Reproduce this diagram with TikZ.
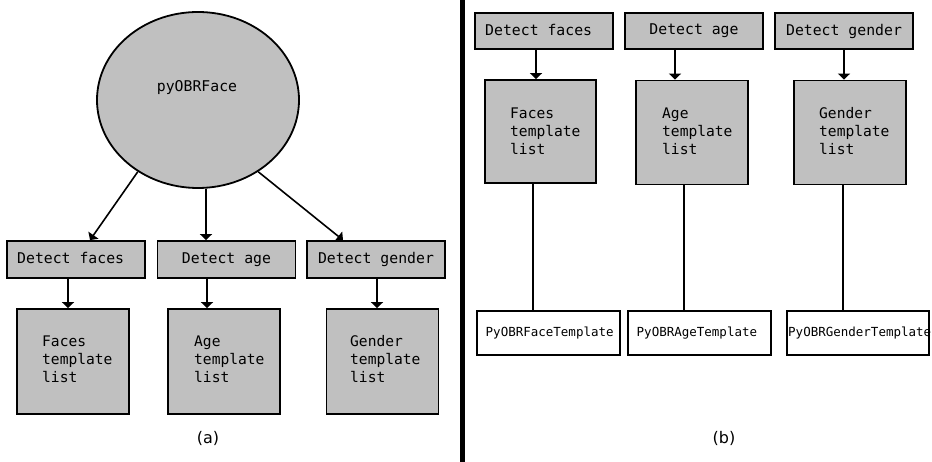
\documentclass[tikz,border=0pt]{standalone}
\usepackage{fontspec}
\setsansfont{DejaVu Sans}
\newfontfamily\monofam{DejaVu Sans Mono}
\usetikzlibrary{shapes.geometric,arrows.meta}
\definecolor{boxgray}{RGB}{192,192,192}
\tikzset{
  x=1pt, y=-1pt,
  graybox/.style={draw=black, line width=1.8pt, fill=boxgray, inner sep=0pt},
  detbox/.style={graybox, minimum width=138pt, minimum height=37pt,
    font=\monofam\fontsize{14.8}{18}\selectfont},
  dettext/.style={anchor=west, inner sep=0pt,
    font=\monofam\fontsize{14.8}{18}\selectfont},
  tplbox/.style={graybox, minimum width=112pt, minimum height=105pt},
  tpltext/.style={anchor=west, align=left, inner sep=0pt,
    font=\monofam\fontsize{14.6}{18}\selectfont},
  classbox/.style={draw=black, line width=1.8pt, fill=white, inner sep=0pt,
    minimum width=143pt, minimum height=44pt},
  classtext/.style={anchor=west, inner sep=0pt,
    font=\monofam\fontsize{12.5}{15}\selectfont},
  arr/.style={line width=1.6pt, -{Triangle[width=12pt,length=6pt]}},
  link/.style={line width=1.6pt},
  caption/.style={font=\sffamily\fontsize{16}{18}\selectfont}
}
\begin{document}
\begin{tikzpicture}
\useasboundingbox (0,0) rectangle (932,462);
\fill[white] (0,0) rectangle (932,462);

% ---------- panel (a) ----------
\node[ellipse, draw=black, line width=1.8pt, fill=boxgray, inner sep=0pt,
      minimum width=202pt, minimum height=176pt] (ell) at (198,100) {};
\node[font=\monofam\fontsize{14.8}{18}\selectfont, inner sep=0pt] (elltext) at (197,88) {pyOBRFace};

\node[detbox] (df) at (76,259.5) {};
\node[dettext] (dftext) at (17,258) {Detect faces};
\node[detbox] (da) at (226.5,259.5) {Detect age};
\node[detbox] (dg) at (376,259.5) {Detect gender};

\node[tplbox] (ft) at (73,361.5) {};
\node[tpltext] (fttext) at (42,359) {Faces\\template\\list};
\node[tplbox] (at) at (224,361.5) {};
\node[tpltext] (attext) at (194,359) {Age\\template\\list};
\node[tplbox] (gt) at (382.5,361.5) {};
\node[tpltext] (gttext) at (350,359) {Gender\\template\\list};

\draw[arr] (ell.230.6) -- ([xshift=14pt]df.north);
\draw[arr] ([xshift=-20.5pt]da.north |- ell.south) -- ([xshift=-20.5pt]da.north);
\draw[arr] (ell.310.3) -- ([xshift=-33pt]dg.north);

\draw[arr] ([xshift=-8pt]df.south) -- ([xshift=-8pt]df.south |- ft.north);
\draw[arr] ([xshift=-19.5pt]da.south) -- ([xshift=-19.5pt]da.south |- at.north);
\draw[arr] ([xshift=1pt]dg.south) -- ([xshift=1pt]dg.south |- gt.north);

\node[caption] (capa) at (208,438) {(a)};

% ---------- divider ----------
\coordinate (divtop) at (462.5,0);
\coordinate (divbot) at (462.5,462);
\draw[line width=5pt] (divtop) -- (divbot);

% ---------- panel (b) ----------
\node[detbox, minimum height=36pt] (rdf) at (544,31) {};
\node[dettext] (rdftext) at (485,29.5) {Detect faces};
\node[detbox, minimum height=36pt] (rda) at (694,31) {Detect age};
\node[detbox, minimum height=36pt] (rdg) at (844,31) {Detect gender};

\node[tplbox, minimum width=111pt, minimum height=103pt] (rft) at (540.5,131.5) {};
\node[tpltext] (rfttext) at (510,131) {Faces\\template\\list};
\node[tplbox, minimum height=104pt] (rat) at (692,132.5) {};
\node[tpltext] (rattext) at (662,131) {Age\\template\\list};
\node[tplbox, minimum height=104pt] (rgt) at (850,132.5) {};
\node[tpltext] (rgttext) at (819,131) {Gender\\template\\list};

\draw[arr] ([xshift=-8pt]rdf.south) -- ([xshift=-8pt]rdf.south |- rft.north);
\draw[arr] ([xshift=-19pt]rda.south) -- ([xshift=-19pt]rda.south |- rat.north);
\draw[arr] (rdg.south) -- (rdg.south |- rgt.north);

\node[classbox] (cf) at (548.5,333) {};
\node[classtext] (cftext) at (485.5,333) {PyOBRFaceTemplate};
\node[classbox] (ca) at (699.5,333) {};
\node[classtext] (catext) at (636.5,333) {PyOBRAgeTemplate};
\node[classbox, minimum width=142pt] (cg) at (858,333) {};
\node[classtext] (cgtext) at (788,333) {PyOBRGenderTemplate};

\draw[link] ([xshift=-7.5pt]rft.south) -- ([xshift=-7.5pt]rft.south |- cf.north);
\draw[link] ([xshift=-8pt]rat.south) -- ([xshift=-8pt]rat.south |- ca.north);
\draw[link] ([xshift=-7pt]rgt.south) -- ([xshift=-7pt]rgt.south |- cg.north);

\node[caption] (capb) at (724,438) {(b)};
\end{tikzpicture}
\end{document}
